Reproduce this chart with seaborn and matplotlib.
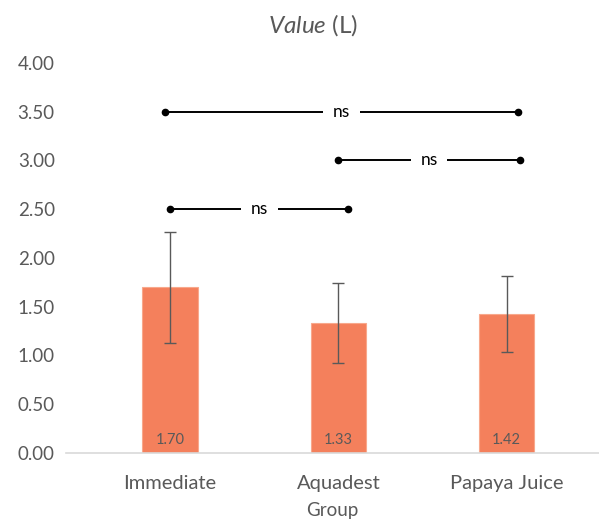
import numpy as np
import pandas as pd
import matplotlib
matplotlib.use("Agg")
import matplotlib.pyplot as plt
import seaborn as sns

#=====================================================
# data
#=====================================================
groups = ["Immediate", "Aquadest", "Papaya Juice"]
means = [1.70, 1.33, 1.42]
sds = [0.57, 0.41, 0.39]

# significance brackets (hand drawn in the original, so ends are a bit off)
pair_starts = [-0.03, 1.0, 0.0]
pair_ends = [2.07, 2.08, 1.06]
pair_heights = [3.5, 3.0, 2.5]
pair_labels = ["ns", "ns", "ns"]

yticks = [0.0, 0.5, 1.0, 1.5, 2.0, 2.5, 3.0, 3.5, 4.0]

sns.set_style("white")
plt.rcParams['font.family'] = ['Lato', 'DejaVu Sans']
plt.rcParams['mathtext.fontset'] = 'custom'
plt.rcParams['mathtext.it'] = 'Lato:italic'
plt.rcParams['mathtext.rm'] = 'Lato'

text_col = "#595959"
bar_col = "#F4805C"

df = pd.DataFrame({"Group": groups, "Value": means})

fig = plt.figure(figsize=(5.99, 5.23), dpi=100)
ax = fig.add_axes([0.110, 0.134, 0.89, 0.746])

sns.barplot(data=df, x="Group", y="Value", color=bar_col, width=0.33,
            saturation=1, ax=ax, edgecolor="#F8A88C", linewidth=0.8)

ax.errorbar(x=np.arange(len(groups)), y=means, yerr=sds, fmt="none",
            ecolor=text_col, elinewidth=1, capsize=4, capthick=1)

# value labels at bottom of bars
for i, m in enumerate(means):
    ax.text(i, 0.06, f"{m:.2f}", ha="center", va="bottom", fontsize=10.5,
            color=text_col)

# significance lines
for s, e, h, lab in zip(pair_starts, pair_ends, pair_heights, pair_labels):
    ax.plot([s, e], [h, h], color="black", lw=1.4, marker="o", markersize=4.5)
    ax.text((s + e) / 2, h, lab, ha="center", va="center", fontsize=12.5,
            color="black",
            bbox=dict(facecolor="white", edgecolor="none", pad=7))

ax.set_ylim(0, 4)
ax.set_xlim(-0.62, 2.55)
ax.set_yticks(yticks)
ax.set_yticklabels([f"{t:.2f}" for t in yticks])
ax.tick_params(axis="y", length=0, labelsize=13.5, colors=text_col, pad=8)
ax.tick_params(axis="x", length=0, labelsize=14.5, colors=text_col, pad=16)
ax.set_xlabel("Group", fontsize=13.5, color=text_col, labelpad=7)
ax.set_ylabel("")

sns.despine(ax=ax, left=True)
ax.spines["bottom"].set_color("#D9D9D9")
ax.spines["bottom"].set_linewidth(1.2)

fig.text(0.523, 0.952, r"$\mathit{Value}$ (L)", ha="center", va="center",
         fontsize=17.5, color=text_col)

plt.savefig("out.png", dpi=100)
